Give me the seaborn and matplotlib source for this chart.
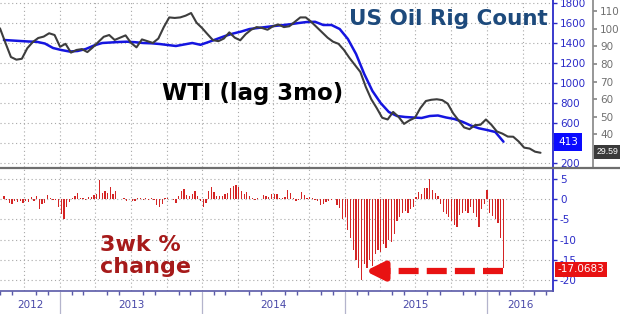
import numpy as np
import pandas as pd
import matplotlib
matplotlib.use("Agg")
import matplotlib.pyplot as plt
import matplotlib.dates as mdates
import matplotlib.transforms as mtransforms
from matplotlib.lines import Line2D
import seaborn as sns

sns.set_theme(style="white")
plt.rcParams['font.family'] = ['DejaVu Sans']
plt.rcParams['axes.unicode_minus'] = False

# ---------------- data ----------------
rig_count = [1430, 1425, 1420, 1415, 1412, 1395, 1350, 1330, 1315, 1320, 1340, 1375,
             1400, 1405, 1410, 1413, 1408, 1400, 1397, 1390, 1380, 1370, 1385, 1400,
             1382, 1410, 1440, 1470, 1495, 1515, 1540, 1550, 1560, 1570, 1578, 1588,
             1600, 1610, 1612, 1580, 1580, 1540, 1440, 1290, 1090, 920, 800, 710,
             670, 660, 655, 650, 670, 675, 655, 640, 612, 575, 547, 530, 510, 413]

wti_lag3 = [100.3, 92, 84, 82.5, 83, 89, 92.5, 94.8, 95.6, 97.5,
            96.5, 89.8, 91.5, 86.5, 88, 88.5, 86.8, 89.5, 92.5, 95.5,
            96.5, 93.7, 95, 96.3, 92, 89.5, 94, 93, 92, 94.5,
            101, 106.5, 106.2, 106.5, 107.5, 109, 103.5, 100.5, 97, 93.6,
            93, 94.5, 98, 95, 93.5, 97, 99.5, 101, 100.5, 99.5,
            101.5, 102.5, 101, 101.5, 104, 106.5, 106.5, 104, 101, 98,
            95, 92.7, 91.5, 88, 83.5, 79.5, 75.5, 67, 60, 55,
            49.5, 48.5, 52.8, 50, 46, 48, 49.5, 55, 59, 59.7,
            60, 59.5, 57.5, 52, 48, 44, 43, 45.3, 45.5, 48.5,
            45.5, 41.7, 40.5, 38.8, 38.7, 36, 32.5, 32, 30.2, 29.59]

chg_3wk = [0.8, -0.3, -1.0, -1.2, -0.5, -0.8, -0.4, -1.0, -0.6, -0.8, 0.5, -0.5,
           0.7, -2.5, -1.2, -1.0, 0.9, 0.2, -0.2, -0.3, -2.0, -3.8, -4.8, -2.0,
           -0.8, 0.3, 0.8, 1.5, 0.2, 0.3, -0.2, 0.4, 0.5, 0.9, 1.3, 4.7, 1.5, 2.0,
           1.5, 3.0, 1.2, 2.0, 0.0, 0.1, 0.3, -0.5, 0.0,
           -0.5, -0.4, 0.3, 0.2, -0.2, 0.3, -0.2, 0.2, -0.3, -1.5, -2.0, -1.2,
           0.3, 0.2, 0.0, -0.3, -1.0, 0.8, 2.0, 2.5, 1.0, 0.8, 1.2, 2.0, 0.8,
           -0.5, -2.0, -1.0, 2.0, 3.0, 1.8, 0.8, 0.8, 0.7, 1.2, 1.5, 2.8, 3.2,
           3.5, 3.0, 2.0, 1.2, 1.8, 0.8, 0.3, -0.2, 0.2, 0.0,
           1.0, 0.8, 0.4, 1.2, 1.3, 1.3, 0.2, 0.2, 0.5, 2.2, 1.5, 0.3, -0.5, -0.3,
           1.7, 1.0, 0.3, 0.4, 0.2, -0.3, -0.5, -1.4, -1.2, -0.8, -0.5, -0.3, 0.1,
           -1.5, -2.3, -5.0, -4.5, -7.5, -9.5, -12.5, -15.0, -17.0, -19.8, -16.0,
           -17.0, -15.0, -16.5, -13.5, -12.5, -13.0, -11.0, -12.0, -10.0, -10.5,
           -8.5, -5.5, -4.5, -3.5, -3.0, -3.5, -2.5, -2.0,
           0.5, 1.8, 1.3, 2.8, 2.8, 5.0, 2.2, 1.5, 0.8, -1.2, -3.2, -3.8, -4.5,
           -5.5, -6.3, -7.0, -4.0, -3.5, -3.0, -3.5, -2.0, -3.5, -4.5, -7.0, -2.5,
           -1.2, 2.2, -3.5, -4.2, -4.8, -6.0, -9.5, -17.0683]

year_labels = ["2012", "2013", "2014", "2015", "2016"]
rig_ticks = [200, 400, 600, 800, 1000, 1200, 1400, 1600, 1800]
wti_ticks = [40, 50, 60, 70, 80, 90, 100, 110]
chg_ticks = [-20, -15, -10, -5, 0, 5]

bar_dates = pd.date_range("2012-08-10", periods=len(chg_3wk), freq="7D")
rig_dates = pd.date_range("2012-08-10", periods=len(rig_count), freq="21D")
wti_dates = pd.date_range("2012-07-31", periods=len(wti_lag3), freq="14D")
x_lo, x_hi = pd.Timestamp("2012-07-31"), pd.Timestamp("2016-06-18")

# ---------------- layout ----------------
W, H = 620, 314
fig = plt.figure(figsize=(W / 100, H / 100), dpi=100)
fx = lambda x: x / W
fy = lambda y: 1 - y / H

BLUE = "#1515e0"
AXBLUE = "#2b2bc8"
GRID = dict(ls=(0, (1, 2.5)), color="#a8a8a8", lw=0.8)

ax1 = fig.add_axes([0, fy(167), fx(553), 167 / H])
ax2 = fig.add_axes([0, fy(291), fx(553), (291 - 168) / H])
ax1w = ax1.twinx()

# top panel: rig count + WTI
sns.lineplot(x=rig_dates, y=rig_count, ax=ax1, color=BLUE, lw=1.8)
sns.lineplot(x=wti_dates, y=wti_lag3, ax=ax1w, color="#3d3d3d", lw=1.5)

ax1.set_ylim(160, 1830)
ax1w.set_ylim(21.5, 116.4)
ax1.set_yticks(rig_ticks)
# the 400 label sits under the "413" flag in the reference
ax1.set_yticklabels(["" if t == 400 else str(t) for t in rig_ticks])
ax1w.set_yticks(wti_ticks)
ax1w.set_yticklabels([str(t) for t in wti_ticks])

# bottom panel: 3wk % change bars
ax2.bar(bar_dates, chg_3wk, width=3.2, color="#d42424", edgecolor="none")
ax2.set_ylim(-22.6, 7.6)
ax2.set_yticks(chg_ticks)
ax2.set_yticklabels([str(t) for t in chg_ticks])

for ax in (ax1, ax1w, ax2):
    ax.set_xlim(x_lo, x_hi)
    ax.set_xlabel("")
    ax.set_ylabel("")
    for s in ("top", "left", "bottom"):
        ax.spines[s].set_visible(False)

for ax in (ax1, ax2):
    ax.yaxis.tick_right()
    ax.spines["right"].set_color(AXBLUE)
    ax.spines["right"].set_linewidth(1.3)
    ax.tick_params(axis="y", colors=AXBLUE, labelcolor=AXBLUE, labelsize=7.5,
                   direction="out", length=3, width=1, pad=2)
    ax.xaxis.set_major_locator(mdates.MonthLocator(bymonth=[1, 4, 7, 10]))
    ax.grid(True, **GRID)
    ax.set_axisbelow(True)
    ax.tick_params(axis="x", length=0, labelbottom=False)

ax1w.spines["right"].set_position(("axes", 593 / 553))
ax1w.spines["right"].set_color("#8a8a8a")
ax1w.tick_params(axis="y", colors="#8a8a8a", labelcolor="#707070", labelsize=7.5,
                 direction="out", length=3, pad=2)
ax1w.grid(False)

# bottom x axis: monthly minor ticks, year separators and labels
ax2.spines["bottom"].set_visible(True)
ax2.spines["bottom"].set_color("#5a5aa8")
ax2.spines["bottom"].set_linewidth(1.2)
ax2.xaxis.set_minor_locator(mdates.MonthLocator())
ax2.tick_params(axis="x", which="minor", length=3, color="#5a5aa8", bottom=True)

trans = mtransforms.blended_transform_factory(ax2.transData, ax2.transAxes)
bounds = [x_lo] + [pd.Timestamp(f"{y}-01-01") for y in range(2013, 2017)] + [x_hi]
for b in bounds[1:-1]:
    ax2.plot([b, b], [-0.01, -0.19], transform=trans, clip_on=False,
             color="#b4b4cc", lw=0.9)
for lab, a, b in zip(year_labels, bounds[:-1], bounds[1:]):
    mid = a + (b - a) / 2
    ax2.text(mid, -0.115, lab, transform=trans, ha="center", va="center",
             fontsize=7.5, color="#4848a8")

# separator between panels
fig.add_artist(Line2D([0, 1], [fy(167.5), fy(167.5)], color="#6e6e6e", lw=1.6))

# titles / annotations
fig.text(fx(548), fy(19), "US Oil Rig Count", ha="right", va="center",
         fontsize=15.5, fontweight="bold", color="#1d4a7c")
fig.text(fx(162), fy(94), "WTI (lag 3mo)", ha="left", va="center",
         fontsize=16.5, fontweight="bold", color="black")
fig.text(fx(100), fy(256), "3wk %\nchange", ha="left", va="center",
         fontsize=16, fontweight="bold", color="#a61a1a", linespacing=1.15)

# value flags on the right
fig.text(fx(558), fy(142), f"{rig_count[-1]}", ha="left", va="center", fontsize=7.5,
         color="white", bbox=dict(boxstyle="square,pad=0.35", fc="#0a0aff", ec="none"))
fig.text(fx(597), fy(152), f"{wti_lag3[-1]:.2f}", ha="left", va="center", fontsize=6.3,
         family=["Liberation Sans", "DejaVu Sans"],
         color="white", bbox=dict(boxstyle="square,pad=0.3", fc="#3a3a3a", ec="none"))
fig.text(fx(558), fy(269.5), f"{chg_3wk[-1]:.4f}", ha="left", va="center", fontsize=7.5,
         color="white", bbox=dict(boxstyle="square,pad=0.25", fc="#e81212", ec="none"))

# red dashed arrow from latest bar back to the trough
i_min = int(np.argmin(chg_3wk))
y_arrow = -17.7
tip = bar_dates[i_min] + pd.Timedelta(days=10)
shaft_start = tip + pd.Timedelta(days=40)
ax2.plot([bar_dates[-1], shaft_start], [y_arrow, y_arrow], color="#e81212", lw=4.5,
         dashes=(3.2, 1.3), dash_capstyle="butt", solid_capstyle="butt", zorder=5)
ax2.annotate("", xy=(tip, y_arrow), xytext=(shaft_start, y_arrow),
             arrowprops=dict(arrowstyle="-|>,head_length=0.6,head_width=0.3",
                             mutation_scale=18, color="#e81212", lw=4.5,
                             shrinkA=0, shrinkB=0), zorder=5)

fig.savefig("out.png", dpi=100)
